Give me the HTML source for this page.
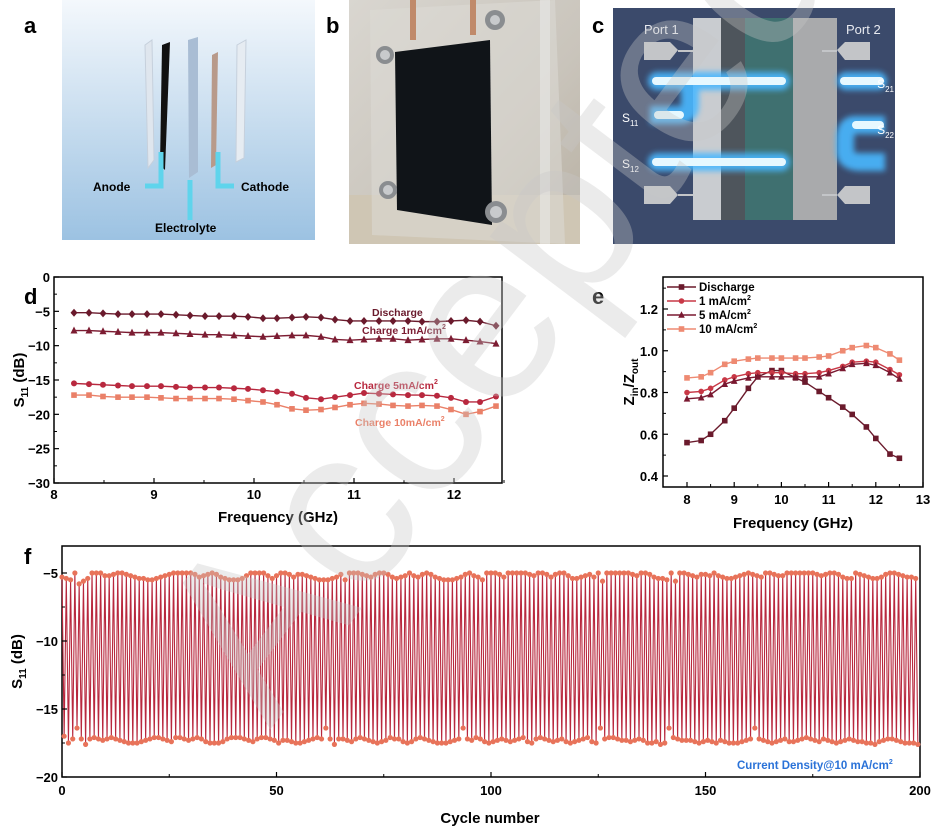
<!DOCTYPE html>
<html><head><meta charset="utf-8"><style>
html,body{margin:0;padding:0;background:#fff;}
svg{display:block;font-family:"Liberation Sans",Arial,sans-serif;}
.tk{font-size:13px;font-weight:bold;fill:#000;}
.lab{font-size:15px;font-weight:bold;fill:#000;}
.pl{font-size:22px;font-weight:bold;fill:#000;}
</style></head><body>
<svg id="fig" width="947" height="833" viewBox="0 0 947 833">
<defs>
<linearGradient id="ga" x1="0" y1="0" x2="0" y2="1"><stop offset="0" stop-color="#f4f8fc"/><stop offset="1" stop-color="#9cc2e2"/></linearGradient>
<linearGradient id="gb" x1="0" y1="0" x2="1" y2="1"><stop offset="0" stop-color="#d9d6d0"/><stop offset="0.6" stop-color="#c9c4bb"/><stop offset="1" stop-color="#b8b0a2"/></linearGradient>
<filter id="glow" x="-20%" y="-100%" width="140%" height="300%"><feGaussianBlur stdDeviation="3"/></filter>
</defs>

<g>
<rect x="62" y="0" width="253" height="240" fill="url(#ga)"/>
<polygon points="145,45 152,40 154,160 148,168" fill="#dfe6ee" stroke="#c6d0dc"/>
<polygon points="162,45 170,42 165,170 160,165" fill="#111"/>
<polygon points="188,40 198,37 198,172 189,178" fill="#a9bdd4"/>
<polygon points="212,55 218,52 216,165 211,168" fill="#b89a8a"/>
<polygon points="237,45 246,40 244,158 236,162" fill="#e6ecf2" stroke="#c6d0dc"/>
<path d="M161,152 V186 H145" stroke="#5fd4ec" stroke-width="5" fill="none"/>
<path d="M190,180 V220" stroke="#5fd4ec" stroke-width="5" fill="none"/>
<path d="M218,152 V186 H234" stroke="#5fd4ec" stroke-width="5" fill="none"/>
<text x="93" y="191" font-size="12" font-weight="bold">Anode</text>
<text x="241" y="191" font-size="12" font-weight="bold">Cathode</text>
<text x="155" y="232" font-size="12" font-weight="bold">Electrolyte</text>
</g>

<g>
<rect x="349" y="0" width="231" height="244" fill="url(#gb)"/>
<rect x="349" y="195" width="231" height="49" fill="#cfc6b4"/>
<polygon points="370,10 555,0 565,244 372,235" fill="#dcdad6" opacity="0.55"/>
<rect x="410" y="0" width="6" height="40" fill="#c08a6a"/>
<rect x="470" y="0" width="6" height="35" fill="#c08a6a"/>
<polygon points="395,52 490,40 492,225 397,210" fill="#101418"/>
<circle cx="385" cy="55" r="9" fill="#8a8d90"/><circle cx="385" cy="55" r="5" fill="#c8cacc"/>
<circle cx="495" cy="20" r="10" fill="#8a8d90"/><circle cx="495" cy="20" r="5" fill="#c8cacc"/>
<circle cx="388" cy="190" r="9" fill="#8a8d90"/><circle cx="388" cy="190" r="5" fill="#c8cacc"/>
<circle cx="496" cy="212" r="11" fill="#8a8d90"/><circle cx="496" cy="212" r="6" fill="#c8cacc"/>
<rect x="540" y="0" width="10" height="244" fill="#e8e8e6" opacity="0.6"/>
</g>

<g>
<rect x="613" y="8" width="282" height="236" fill="#3b4a6b"/>
<rect x="693" y="18" width="28" height="202" fill="#c9ccd0"/>
<rect x="721" y="18" width="24" height="202" fill="#4e555c"/>
<rect x="745" y="18" width="48" height="202" fill="#3f7070"/>
<rect x="793" y="18" width="44" height="202" fill="#a9aaac"/>
<polygon points="644,42 670,42 678,50 670,60 644,60" fill="#c3c5c8"/><line x1="678" y1="51" x2="693" y2="51" stroke="#c3c5c8" stroke-width="2"/>
<polygon points="870,42 845,42 837,50 845,60 870,60" fill="#c3c5c8"/><line x1="837" y1="51" x2="822" y2="51" stroke="#c3c5c8" stroke-width="2"/>
<polygon points="644,186 670,186 678,195 670,204 644,204" fill="#c3c5c8"/><line x1="678" y1="195" x2="693" y2="195" stroke="#c3c5c8" stroke-width="2"/>
<polygon points="870,186 845,186 837,195 845,204 870,204" fill="#c3c5c8"/><line x1="837" y1="195" x2="822" y2="195" stroke="#c3c5c8" stroke-width="2"/>
<g filter="url(#glow)" opacity="0.9">
<rect x="648" y="72" width="142" height="18" rx="9" fill="#49b8ff"/>
<rect x="837" y="72" width="50" height="18" rx="9" fill="#49b8ff"/>
<rect x="648" y="153" width="142" height="18" rx="9" fill="#49b8ff"/>
<path d="M690,90 V105 Q690,115 680,115 H650" stroke="#49b8ff" stroke-width="18" fill="none"/>
<path d="M885,125 H855 Q845,125 845,140 V150 Q845,162 860,162 H885" stroke="#49b8ff" stroke-width="18" fill="none"/>
</g>
<rect x="652" y="77" width="134" height="8" rx="4" fill="#e6f8ff"/>
<rect x="840" y="77" width="44" height="8" rx="4" fill="#e6f8ff"/>
<rect x="652" y="158" width="134" height="8" rx="4" fill="#e6f8ff"/>
<rect x="654" y="111" width="30" height="8" rx="4" fill="#e6f8ff"/>
<rect x="852" y="121" width="32" height="8" rx="4" fill="#e6f8ff"/>
<text x="644" y="34" font-size="13" fill="#e8eaf0">Port 1</text>
<text x="846" y="34" font-size="13" fill="#e8eaf0">Port 2</text>
<text x="622" y="122" font-size="12" fill="#fff">S<tspan font-size="8" dy="4">11</tspan></text>
<text x="622" y="168" font-size="12" fill="#fff">S<tspan font-size="8" dy="4">12</tspan></text>
<text x="894" y="88" font-size="12" fill="#fff" text-anchor="end">S<tspan font-size="8" dy="4">21</tspan></text>
<text x="894" y="134" font-size="12" fill="#fff" text-anchor="end">S<tspan font-size="8" dy="4">22</tspan></text>
</g>

<text class="pl" x="24" y="33">a</text>
<text class="pl" x="326" y="33">b</text>
<text class="pl" x="592" y="33">c</text>
<text class="pl" x="24" y="304">d</text>
<text class="pl" x="592" y="304">e</text>
<text class="pl" x="24" y="564">f</text>

<g id="gd"></g>
<g id="ge"></g>
<g id="gf"></g>

<text x="270" y="730" font-size="230" fill="#c8c8c8" opacity="0.35" transform="rotate(-53 270 730)" style="font-family:'Liberation Sans',sans-serif">Accepted</text>
</svg>
<script>
const dFreq = [8.20,8.35,8.49,8.64,8.78,8.93,9.07,9.22,9.36,9.51,9.65,9.80,9.94,10.09,10.23,10.38,10.52,10.67,10.81,10.96,11.10,11.25,11.39,11.54,11.68,11.83,11.97,12.12,12.26,12.42];
const dDischarge = [-5.2,-5.2,-5.3,-5.4,-5.4,-5.4,-5.4,-5.5,-5.6,-5.7,-5.7,-5.7,-5.8,-6.0,-6.0,-5.9,-5.8,-5.9,-6.2,-6.4,-6.4,-6.4,-6.4,-6.4,-6.5,-6.5,-6.4,-6.3,-6.5,-7.1];
const dCharge1 = [-7.8,-7.8,-7.9,-8.0,-8.1,-8.1,-8.1,-8.2,-8.3,-8.4,-8.4,-8.5,-8.6,-8.7,-8.6,-8.5,-8.5,-8.7,-9.1,-9.2,-9.1,-9.0,-9.0,-9.2,-9.1,-9.0,-9.0,-9.2,-9.4,-9.7];
const dCharge5 = [-15.5,-15.6,-15.7,-15.8,-15.9,-15.9,-15.9,-16.0,-16.1,-16.1,-16.1,-16.2,-16.3,-16.5,-16.7,-17.0,-17.6,-17.8,-17.5,-17.2,-16.9,-17.0,-17.1,-17.2,-17.2,-17.3,-17.6,-18.2,-18.2,-17.4];
const dCharge10 = [-17.2,-17.2,-17.4,-17.5,-17.5,-17.5,-17.6,-17.7,-17.7,-17.7,-17.7,-17.8,-18.0,-18.2,-18.6,-19.2,-19.4,-19.3,-19.0,-18.6,-18.4,-18.5,-18.7,-18.8,-18.7,-18.8,-19.3,-20.0,-19.6,-18.8];
const dXTicks = [8,9,10,11,12];
const dYTicks = [0,-5,-10,-15,-20,-25,-30];
const dSeriesNames = ["Discharge","Charge 1mA/cm","Charge 5mA/cm","Charge 10mA/cm"];

const eFreq = [8,8.3,8.5,8.8,9,9.3,9.5,9.8,10,10.3,10.5,10.8,11,11.3,11.5,11.8,12,12.3,12.5];
const eDischarge = [0.56,0.57,0.60,0.665,0.725,0.82,0.875,0.905,0.905,0.87,0.85,0.805,0.775,0.73,0.695,0.635,0.58,0.505,0.485];
const e1mA = [0.80,0.805,0.82,0.86,0.875,0.89,0.895,0.895,0.895,0.89,0.89,0.895,0.905,0.925,0.945,0.95,0.945,0.91,0.885];
const e5mA = [0.77,0.775,0.79,0.84,0.855,0.87,0.875,0.875,0.875,0.875,0.875,0.875,0.89,0.915,0.935,0.94,0.93,0.895,0.865];
const e10mA = [0.87,0.875,0.895,0.935,0.95,0.96,0.965,0.965,0.965,0.965,0.965,0.97,0.975,1.0,1.015,1.025,1.015,0.985,0.955];
const eXTicks = [8,9,10,11,12,13];
const eYTicks = [0.4,0.6,0.8,1.0,1.2];
const eLegend = ["Discharge","1 mA/cm","5 mA/cm","10 mA/cm"];

const fHigh = [
-5.3,-5.4,-5.5,-5.0,-5.8,-5.6,-5.4,-5.0,-5.0,-5.0,-5.2,-5.2,-5.1,-5.0,-5.0,-5.1,-5.2,-5.3,-5.4,-5.4,
-5.5,-5.5,-5.4,-5.3,-5.2,-5.1,-5.0,-5.0,-5.0,-5.0,-5.0,-5.1,-5.3,-5.2,-5.1,-5.0,-5.1,-5.3,-5.4,-5.5,
-5.5,-5.5,-5.4,-5.2,-5.0,-5.0,-5.0,-5.0,-5.2,-5.4,-5.2,-5.0,-5.0,-5.1,-5.3,-5.1,-5.1,-5.2,-5.3,-5.4,
-5.5,-5.5,-5.5,-5.4,-5.3,-5.1,-5.5,-5.0,-5.0,-5.0,-5.1,-5.2,-5.3,-5.1,-5.0,-5.0,-5.1,-5.3,-5.4,-5.3,
-5.2,-5.0,-5.2,-5.3,-5.1,-5.0,-5.1,-5.3,-5.4,-5.5,-5.5,-5.5,-5.4,-5.3,-5.1,-5.0,-5.2,-5.3,-5.5,-5.0,
-5.0,-5.0,-5.1,-5.3,-5.0,-5.0,-5.0,-5.0,-5.0,-5.1,-5.2,-5.0,-5.0,-5.1,-5.3,-5.1,-5.0,-5.0,-5.2,-5.4,
-5.4,-5.3,-5.2,-5.1,-5.3,-5.0,-5.6,-5.0,-5.0,-5.0,-5.0,-5.0,-5.0,-5.1,-5.2,-5.0,-5.0,-5.1,-5.3,-5.4,
-5.4,-5.5,-5.0,-5.6,-5.0,-5.0,-5.1,-5.2,-5.3,-5.1,-5.1,-5.2,-5.0,-5.2,-5.3,-5.4,-5.4,-5.3,-5.2,-5.1,
-5.0,-5.1,-5.2,-5.3,-5.0,-5.0,-5.1,-5.2,-5.2,-5.0,-5.0,-5.0,-5.0,-5.0,-5.0,-5.0,-5.1,-5.2,-5.1,-5.0,
-5.0,-5.1,-5.3,-5.4,-5.4,-5.0,-5.1,-5.2,-5.3,-5.4,-5.4,-5.3,-5.1,-5.0,-5.0,-5.1,-5.2,-5.3,-5.3,-5.4];
const fLow = [
-17.0,-17.5,-17.2,-16.4,-17.2,-17.6,-17.2,-17.1,-17.2,-17.3,-17.2,-17.1,-17.2,-17.3,-17.4,-17.5,-17.5,-17.5,-17.4,-17.3,
-17.2,-17.1,-17.1,-17.2,-17.3,-17.4,-17.1,-17.1,-17.2,-17.3,-17.2,-17.1,-17.2,-17.4,-17.5,-17.5,-17.5,-17.4,-17.2,-17.1,
-17.1,-17.1,-17.2,-17.3,-17.4,-17.2,-17.1,-17.1,-17.2,-17.3,-17.5,-17.3,-17.3,-17.4,-17.5,-17.5,-17.4,-17.3,-17.2,-17.1,
-17.2,-16.4,-17.2,-17.6,-17.2,-17.2,-17.3,-17.4,-17.2,-17.1,-17.2,-17.3,-17.4,-17.5,-17.4,-17.3,-17.1,-17.2,-17.2,-17.4,
-17.5,-17.4,-17.2,-17.1,-17.2,-17.3,-17.4,-17.5,-17.5,-17.5,-17.4,-17.3,-17.2,-16.4,-17.2,-17.3,-17.1,-17.2,-17.4,-17.5,
-17.4,-17.3,-17.2,-17.3,-17.4,-17.3,-17.2,-17.1,-17.4,-17.5,-17.2,-17.1,-17.2,-17.3,-17.4,-17.3,-17.2,-17.4,-17.5,-17.4,
-17.3,-17.2,-17.1,-17.4,-17.5,-16.4,-17.2,-17.1,-17.1,-17.2,-17.3,-17.3,-17.4,-17.3,-17.2,-17.3,-17.5,-17.5,-17.4,-17.6,
-17.5,-16.4,-17.1,-17.2,-17.3,-17.3,-17.3,-17.4,-17.5,-17.4,-17.3,-17.4,-17.5,-17.3,-17.4,-17.5,-17.5,-17.5,-17.4,-17.3,
-17.2,-16.4,-17.2,-17.3,-17.4,-17.5,-17.4,-17.3,-17.2,-17.4,-17.4,-17.3,-17.2,-17.1,-17.2,-17.3,-17.4,-17.2,-17.3,-17.4,
-17.5,-17.4,-17.3,-17.2,-17.3,-17.4,-17.4,-17.5,-17.5,-17.6,-17.4,-17.3,-17.2,-17.2,-17.3,-17.4,-17.5,-17.5,-17.5,-17.6];
const fXTicks = [0,50,100,150,200];
const fYTicks = [-5,-10,-15,-20];

const NS = "http://www.w3.org/2000/svg";
function mk(parent, tag, attrs, text){
  const el = document.createElementNS(NS, tag);
  for (const k in attrs) el.setAttribute(k, attrs[k]);
  if (text !== undefined) el.textContent = text;
  parent.appendChild(el);
  return el;
}
function marker(g, shape, x, y, r, color){
  let el;
  if (shape === "square") el = mk(g, "rect", {x:x-r, y:y-r, width:2*r, height:2*r, fill:color});
  else if (shape === "tri") el = mk(g, "polygon", {points:`${x},${y-r-1} ${x-r-0.5},${y+r} ${x+r+0.5},${y+r}`, fill:color});
  else if (shape === "diamond") el = mk(g, "polygon", {points:`${x},${y-r-1} ${x+r+0.5},${y} ${x},${y+r+1} ${x-r-0.5},${y}`, fill:color});
  else el = mk(g, "circle", {cx:x, cy:y, r:r, fill:color});
  return el;
}
function series(g, xs, ys, sx, sy, color, shape, r, name){
  const sg = mk(g, "g", {});
  
  
  const pts = xs.map((x,i)=>sx(x)+","+sy(ys[i])).join(" ");
  mk(sg, "polyline", {points:pts, fill:"none", stroke:color, "stroke-width":1.4});
  xs.forEach((x,i)=>{
    const m = marker(sg, shape, sx(x), sy(ys[i]), r, color);
    
    
  });
}
function box(g, x0, y0, x1, y1){
  mk(g, "rect", {x:x0, y:y0, width:x1-x0, height:y1-y0, fill:"none", stroke:"#000", "stroke-width":1.5});
}

(function(){
  const g = document.getElementById("gd");
  const X0=54, X1=502, Y0=277, Y1=483;
  const sx = v => X0 + (v-8)*100;
  const sy = v => Y0 + (0-v)*(Y1-Y0)/30;
  box(g, X0, Y0, X1, Y1);
  dXTicks.forEach(t=>{
    mk(g,"line",{x1:sx(t),x2:sx(t),y1:Y1,y2:Y1-5,stroke:"#000","stroke-width":1.2});
    mk(g,"line",{x1:sx(t+0.5),x2:sx(t+0.5),y1:Y1,y2:Y1-3,stroke:"#000","stroke-width":1});
    const l = mk(g,"text",{x:sx(t),y:Y1+16,"text-anchor":"middle",class:"tk"},String(t));
    
    
  });
  dYTicks.forEach(t=>{
    mk(g,"line",{x1:X0,x2:X0+5,y1:sy(t),y2:sy(t),stroke:"#000","stroke-width":1.2});
    if (t>-30) mk(g,"line",{x1:X0,x2:X0+3,y1:sy(t-2.5),y2:sy(t-2.5),stroke:"#000","stroke-width":1});
    const l = mk(g,"text",{x:X0-4,y:sy(t)+5,"text-anchor":"end",class:"tk"},t===0?"0":"\u2212"+Math.abs(t));
    
    
  });
  series(g, dFreq, dDischarge, sx, sy, "#6a1a2c", "diamond", 3, "series-discharge");
  series(g, dFreq, dCharge1, sx, sy, "#7c1c32", "tri", 3, "series-charge-1ma");
  series(g, dFreq, dCharge5, sx, sy, "#b8283e", "circle", 3, "series-charge-5ma");
  series(g, dFreq, dCharge10, sx, sy, "#ea8068", "square", 2.8, "series-charge-10ma");
  const lab = [[dSeriesNames[0],372,316,"#6a1a2c",false],[dSeriesNames[1],362,334,"#7c1c32",true],[dSeriesNames[2],354,389,"#b8283e",true],[dSeriesNames[3],355,426,"#ea8068",true]];
  lab.forEach(([t,x,y,c,sup])=>{
    const el = mk(g,"text",{x:x,y:y,"font-size":"10.5","font-weight":"bold",fill:c});
    el.textContent = t;
    if (sup) mk(el,"tspan",{"font-size":"7",dy:"-5"},"2");
    
    
  });
  const yl = mk(g,"text",{x:0,y:0,class:"lab",transform:`translate(24,${(Y0+Y1)/2}) rotate(-90)`,"text-anchor":"middle"});
  yl.textContent="S"; mk(yl,"tspan",{"font-size":"10",dy:"4"},"11"); mk(yl,"tspan",{dy:"-4"}," (dB)");
   
  const xl = mk(g,"text",{x:(X0+X1)/2,y:Y1+39,class:"lab","text-anchor":"middle"},"Frequency (GHz)");
   
})();

(function(){
  const g = document.getElementById("ge");
  const X0=663, X1=923, Y0=277, Y1=487;
  const sx = v => 687 + (v-8)*47.2;
  const sy = v => 309 + (1.2-v)*208.75;
  box(g, X0, Y0, X1, Y1);
  eXTicks.forEach(t=>{
    mk(g,"line",{x1:sx(t),x2:sx(t),y1:Y1,y2:Y1-5,stroke:"#000","stroke-width":1.2});
    if (t<13) mk(g,"line",{x1:sx(t+0.5),x2:sx(t+0.5),y1:Y1,y2:Y1-3,stroke:"#000","stroke-width":1});
    const l = mk(g,"text",{x:sx(t),y:Y1+17,"text-anchor":"middle",class:"tk"},String(t));
     
  });
  eYTicks.forEach(t=>{
    mk(g,"line",{x1:X0,x2:X0+5,y1:sy(t),y2:sy(t),stroke:"#000","stroke-width":1.2});
    mk(g,"line",{x1:X0,x2:X0+3,y1:sy(t+0.1),y2:sy(t+0.1),stroke:"#000","stroke-width":1});
    const l = mk(g,"text",{x:X0-5,y:sy(t)+5,"text-anchor":"end",class:"tk"},t.toFixed(1));
     
  });
  const cols = ["#6a1a2c","#c83846","#7a1830","#ee8a72"];
  const shapes = ["square","circle","tri","square"];
  const data = [eDischarge,e1mA,e5mA,e10mA];
  const names = ["series-discharge","series-1ma","series-5ma","series-10ma"];
  data.forEach((d,i)=>series(g, eFreq, d, sx, sy, cols[i], shapes[i], 2.8, names[i]));
  eLegend.forEach((t,i)=>{
    const y = 287 + i*14;
    const lg = mk(g,"g",{});
     
    mk(lg,"line",{x1:667,x2:696,y1:y,y2:y,stroke:cols[i],"stroke-width":1.5});
    marker(lg, shapes[i], 681.5, y, 2.8, cols[i]);
    const tx = mk(lg,"text",{x:699,y:y+4,"font-size":"11.5","font-weight":"bold"}); tx.textContent=t;
    if (i>0) mk(tx,"tspan",{"font-size":"7",dy:"-5"},"2");
  });
  const yl = mk(g,"text",{x:0,y:0,class:"lab",transform:`translate(634,${(Y0+Y1)/2}) rotate(-90)`,"text-anchor":"middle"});
  yl.textContent="Z"; mk(yl,"tspan",{"font-size":"10",dy:"4"},"in"); mk(yl,"tspan",{dy:"-4"},"/Z"); mk(yl,"tspan",{"font-size":"10",dy:"4"},"out");
   
  const xl = mk(g,"text",{x:793,y:528,class:"lab","text-anchor":"middle"},"Frequency (GHz)");
   
})();

(function(){
  const g = document.getElementById("gf");
  const X0=62, X1=920, Y0=546, Y1=777;
  const sx = v => X0 + v*(X1-X0)/200;
  const sy = v => 573 + (-5-v)*13.6;
  box(g, X0, Y0, X1, Y1);
  let pts = [];
  fHigh.forEach((h,i)=>{ pts.push(sx(i)+","+sy(h)); pts.push(sx(i+0.5)+","+sy(fLow[i])); });
  const pl = mk(g,"polyline",{points:pts.join(" "),fill:"none",stroke:"#b8283e","stroke-width":1.1});
   
  const mg = mk(g,"g",{fill:"#e8735a"});
   
  fHigh.forEach((h,i)=>{
    const a = mk(mg,"circle",{cx:sx(i),cy:sy(h),r:2.6});
     
    const b = mk(mg,"circle",{cx:sx(i+0.5),cy:sy(fLow[i]),r:2.6});
     
  });
  fXTicks.forEach(t=>{
    mk(g,"line",{x1:sx(t),x2:sx(t),y1:Y1,y2:Y1-5,stroke:"#000","stroke-width":1.2});
    if (t<200) mk(g,"line",{x1:sx(t+25),x2:sx(t+25),y1:Y1,y2:Y1-3,stroke:"#000","stroke-width":1});
    const l = mk(g,"text",{x:sx(t),y:Y1+18,"text-anchor":"middle",class:"tk"},String(t));
     
  });
  fYTicks.forEach(t=>{
    mk(g,"line",{x1:X0,x2:X0+5,y1:sy(t),y2:sy(t),stroke:"#000","stroke-width":1.2});
    if (t>-20) mk(g,"line",{x1:X0,x2:X0+3,y1:sy(t-2.5),y2:sy(t-2.5),stroke:"#000","stroke-width":1});
    const l = mk(g,"text",{x:X0-4,y:sy(t)+5,"text-anchor":"end",class:"tk"},"\u2212"+Math.abs(t));
     
  });
  const ann = mk(g,"text",{x:737,y:769,"font-size":"11.5","font-weight":"bold",fill:"#2a72d8"}); ann.textContent="Current Density@10 mA/cm";
  mk(ann,"tspan",{"font-size":"7",dy:"-5"},"2");
   
  const yl = mk(g,"text",{x:0,y:0,class:"lab",transform:`translate(22,${(Y0+Y1)/2}) rotate(-90)`,"text-anchor":"middle"});
  yl.textContent="S"; mk(yl,"tspan",{"font-size":"10",dy:"4"},"11"); mk(yl,"tspan",{dy:"-4"}," (dB)");
   
  const xl = mk(g,"text",{x:490,y:823,class:"lab","text-anchor":"middle"},"Cycle number");
   
})();
</script>
</body></html>
